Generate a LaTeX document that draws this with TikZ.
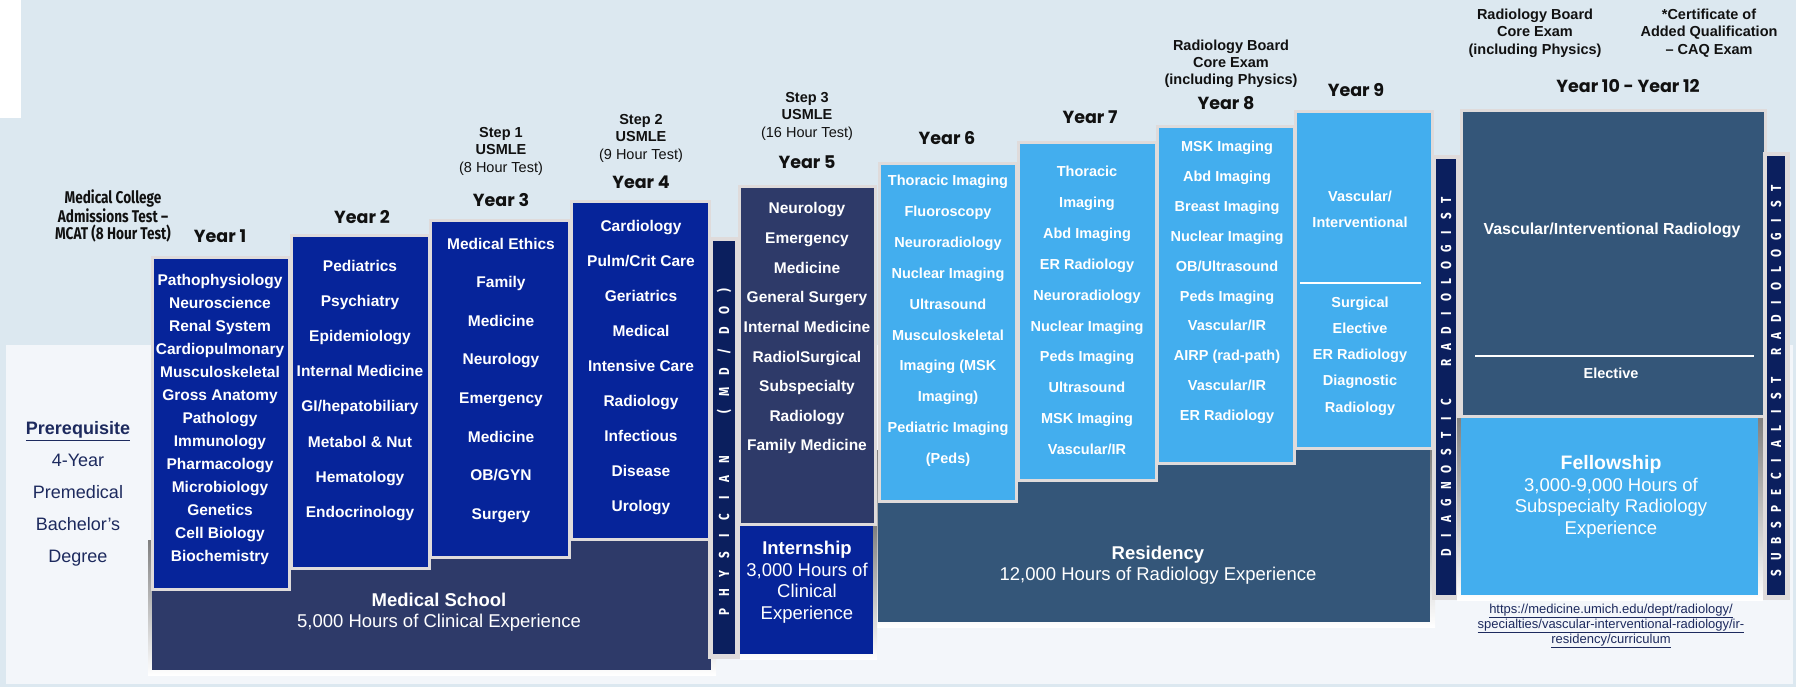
\documentclass[tikz,border=0pt]{standalone}
\usepackage{fontspec}
\setmainfont{Liberation Sans}
\newfontfamily\yearfont{Poppins}
\newfontfamily\narrowfont{Fira Sans}[FakeStretch=0.8]
\usepackage{xcolor}
\usepackage{tikz}

\definecolor{bgtop}{HTML}{DCE8F0}
\definecolor{bgpanel}{HTML}{F3F6FA}
\definecolor{royal}{HTML}{06249A}
\definecolor{slate}{HTML}{2E3A69}
\definecolor{sky}{HTML}{43AEEE}
\definecolor{steel}{HTML}{345679}
\definecolor{navybar}{HTML}{0B1F5E}
\definecolor{edgegray}{HTML}{DFDBDB}
\definecolor{shade}{HTML}{7B8999}
\definecolor{ink}{HTML}{111111}
\definecolor{inkblue}{HTML}{1D2A5E}

\tikzstyle{colonne} = [draw=edgegray, line width=3pt]
\tikzstyle{matiere} = [text=white, inner sep=0pt,
text height=10pt, text depth=0pt,
font=\fontsize{15.5}{18}\selectfont\bfseries]
\tikzstyle{petite} = [matiere, font=\fontsize{14.5}{17}\selectfont\bfseries]
\tikzstyle{annee} = [text=ink, inner sep=0pt,
font=\yearfont\bfseries\fontsize{17.5}{20}\selectfont]
\tikzstyle{examen} = [text=ink, align=center, inner sep=0pt,
font=\fontsize{14.5}{17.5}\selectfont]
\tikzstyle{lettre} = [text=white, rotate=90, inner sep=0pt,
text height=10pt, text depth=0pt,
font=\narrowfont\bfseries\fontsize{14.5}{15}\selectfont]
\tikzstyle{bloc} = [text=white, align=center, inner sep=0pt,
font=\fontsize{18.5}{21.5}\selectfont]

\begin{document}
\begin{tikzpicture}[x=1pt,y=-1pt]
\useasboundingbox (0,0) rectangle (1796,687);

% Fond
\fill[bgtop] (0,0) rectangle (1796,687);
\fill[bgpanel] (6,345) rectangle (1793,684);
\fill[white] (0,0) rectangle (21,118);

% Blocs du bas (avec ombre)
\fill[shade] (148,540) rectangle (716,675);
\fill[slate] (152,540) rectangle (711,670); % Medical School
\fill[shade] (874,450) rectangle (1435,627);
\fill[steel] (878,450) rectangle (1430,622); % Residency

% Colonnes Year 1 - Year 4
\draw[colonne, fill=royal] (152,257) rectangle (289,589);
\draw[colonne, fill=royal] (291,235.5) rectangle (429,568);
\draw[colonne, fill=royal] (430.5,220.5) rectangle (569,557);
\draw[colonne, fill=royal] (571,201.5) rectangle (709,539);

% Barre PHYSICIAN
\fill[edgegray] (708,237) rectangle (740,659);
\fill[navybar] (713,241) rectangle (735,654);

% Year 5 et Internship
\draw[colonne, fill=slate] (739,187) rectangle (875,524.5);
\fill[shade] (740,526) rectangle (877,659);
\fill[royal] (740,526) rectangle (873,654);

% Colonnes Year 6 - Year 9
\draw[colonne, fill=sky] (879,164) rectangle (1016,501);
\draw[colonne, fill=sky] (1018,143) rectangle (1156,480);
\draw[colonne, fill=sky] (1157.5,127) rectangle (1294,463);
\draw[colonne, fill=sky] (1295,112) rectangle (1432,448);
\draw[white, line width=2pt] (1300,283) -- (1421,283);

% Barre DIAGNOSTIC RADIOLOGIST
\fill[edgegray] (1432,155) rectangle (1460,600);
\fill[navybar] (1436,159) rectangle (1456,595);

% Year 10 - Year 12 et Fellowship
\draw[colonne, fill=steel] (1461.5,110.5) rectangle (1765.5,416.5);
\draw[white, line width=2pt] (1475,356) -- (1754,356);
\fill[shade] (1457,418) rectangle (1763,600);
\fill[sky] (1461,418) rectangle (1758,595);

% Barre SUBSPECIALIST RADIOLOGIST
\fill[edgegray] (1763,152) rectangle (1790,600);
\fill[navybar] (1767,156) rectangle (1785,595);

% Titres au-dessus des colonnes
\node[examen, font=\narrowfont\bfseries\fontsize{17}{17.5}\selectfont] (mcat) at (113,216) {Medical College\\Admissions Test –\\MCAT (8 Hour Test)};
\node[annee] (an1) at (220,236) {Year 1};
\node[annee] (an2) at (362,217) {Year 2};
\node[annee] (an3) at (501,200) {Year 3};
\node[annee] (an4) at (641,182) {Year 4};
\node[annee] (an5) at (807,162) {Year 5};
\node[annee] (an6) at (947,138) {Year 6};
\node[annee] (an7) at (1090,117) {Year 7};
\node[annee] (an8) at (1226,103) {Year 8};
\node[annee] (an9) at (1356,90) {Year 9};
\node[annee] (an10) at (1628,86) {Year 10 - Year 12};

\node[examen] (step1) at (501,151) {\textbf{Step 1}\\\textbf{USMLE}\\(8 Hour Test)};
\node[examen] (step2) at (641,138) {\textbf{Step 2}\\\textbf{USMLE}\\(9 Hour Test)};
\node[examen] (step3) at (807,116) {\textbf{Step 3}\\\textbf{USMLE}\\(16 Hour Test)};
\node[examen, font=\fontsize{14.5}{17}\selectfont\bfseries] (board1) at (1231,64) {Radiology Board\\Core Exam\\(including Physics)};
\node[examen, font=\fontsize{14.5}{17.5}\selectfont\bfseries] (board2) at (1535,33) {Radiology Board\\Core Exam\\(including Physics)};
\node[examen, font=\fontsize{14.5}{17.5}\selectfont\bfseries] (caq) at (1709,33) {*Certificate of\\Added Qualification\\– CAQ Exam};

% Prerequisite
\node[align=center, text=inkblue, inner sep=0pt, font=\fontsize{18}{32}\selectfont] (prereq) at (78,494) {\textbf{\underline{Prerequisite}}\\4-Year\\Premedical\\Bachelor's\\Degree};

% Matieres
\foreach \t [count=\i] in {Pathophysiology, Neuroscience, Renal System, Cardiopulmonary, Musculoskeletal, Gross Anatomy, Pathology, Immunology, Pharmacology, Microbiology, Genetics, Cell Biology, Biochemistry}
  \node[matiere] (un-\i) at (220,{280+23*(\i-1)}) {\t};
\foreach \t [count=\i] in {Pediatrics, Psychiatry, Epidemiology, Internal Medicine, GI/hepatobiliary, Metabol \& Nut, Hematology, Endocrinology}
  \node[matiere] (deux-\i) at (360,{266+35.2*(\i-1)}) {\t};
\foreach \t [count=\i] in {Medical Ethics, Family, Medicine, Neurology, Emergency, Medicine, OB/GYN, Surgery}
  \node[matiere] (trois-\i) at (501,{244+38.6*(\i-1)}) {\t};
\foreach \t [count=\i] in {Cardiology, Pulm/Crit Care, Geriatrics, Medical, Intensive Care, Radiology, Infectious, Disease, Urology}
  \node[matiere] (quatre-\i) at (641,{226+35.1*(\i-1)}) {\t};
\foreach \t [count=\i] in {Neurology, Emergency, Medicine, General Surgery, Internal Medicine, RadiolSurgical, Subspecialty, Radiology, Family Medicine}
  \node[matiere] (cinq-\i) at (807,{209+29.6*(\i-1)}) {\t};
\foreach \t [count=\i] in {Thoracic Imaging, Fluoroscopy, Neuroradiology, Nuclear Imaging, Ultrasound, Musculoskeletal, Imaging (MSK, Imaging), Pediatric Imaging, (Peds)}
  \node[petite] (six-\i) at (948,{181+30.8*(\i-1)}) {\t};
\foreach \t [count=\i] in {Thoracic, Imaging, Abd Imaging, ER Radiology, Neuroradiology, Nuclear Imaging, Peds Imaging, Ultrasound, MSK Imaging, Vascular/IR}
  \node[petite] (sept-\i) at (1087,{172+30.8*(\i-1)}) {\t};
\foreach \t [count=\i] in {MSK Imaging, Abd Imaging, Breast Imaging, Nuclear Imaging, OB/Ultrasound, Peds Imaging, Vascular/IR, AIRP (rad-path), Vascular/IR, ER Radiology}
  \node[petite] (huit-\i) at (1227,{147+29.8*(\i-1)}) {\t};
\node[petite] (neuf-a) at (1360,197) {Vascular/};
\node[petite] (neuf-b) at (1360,222) {Interventional};
\foreach \t [count=\i] in {Surgical, Elective, ER Radiology, Diagnostic, Radiology}
  \node[petite] (neuf-\i) at (1360,{302+26.3*(\i-1)}) {\t};
\node[petite, font=\fontsize{16}{18}\selectfont\bfseries] (dix-a) at (1612,230) {Vascular/Interventional Radiology};
\node[petite] (dix-b) at (1611,373) {Elective};

% Textes des blocs
\node[bloc] (medschool) at (439,612) {\textbf{Medical School}\\5,000 Hours of Clinical Experience};
\node[bloc] (intern) at (807,582) {\textbf{Internship}\\3,000 Hours of\\Clinical\\Experience};
\node[bloc] (resid) at (1158,565) {\textbf{Residency}\\12,000 Hours of Radiology Experience};
\node[bloc] (fellow) at (1611,497) {{\fontsize{19.5}{21.5}\selectfont\textbf{Fellowship}}\\3,000-9,000 Hours of\\Subspecialty Radiology\\Experience};

% Lettres verticales
\foreach \c [count=\i] in {P,H,Y,S,I,C,I,A,N}
  \node[lettre] (phys-\i) at (724,{631-19*\i}) {\c};
\foreach \c [count=\i] in {{(},M,D,{/},D,O,{)}}
  \node[lettre] (mddo-\i) at (724,{432.3-20.3*\i}) {\c};
\foreach \c [count=\i] in {D,I,A,G,N,O,S,T,I,C}
  \node[lettre] (diag-\i) at (1446,{569.8-16.8*\i}) {\c};
\foreach \c [count=\i] in {R,A,D,I,O,L,O,G,I,S,T}
  \node[lettre] (rad-\i) at (1446,{379.3-16.3*\i}) {\c};
\foreach \c [count=\i] in {S,U,B,S,P,E,C,I,A,L,I,S,T}
  \node[lettre] (sub-\i) at (1776,{589.1-16.08*\i}) {\c};
\foreach \c [count=\i] in {R,A,D,I,O,L,O,G,I,S,T}
  \node[lettre] (rad2-\i) at (1776,{368.4-16.4*\i}) {\c};

% Lien
\node[align=center, text=inkblue, inner sep=0pt, font=\fontsize{13}{13.5}\selectfont] (lien) at (1611,626) {\underline{https://medicine.umich.edu/dept/radiology/}\\\underline{specialties/vascular-interventional-radiology/ir-}\\\underline{residency/curriculum}};

\end{tikzpicture}
\end{document}
